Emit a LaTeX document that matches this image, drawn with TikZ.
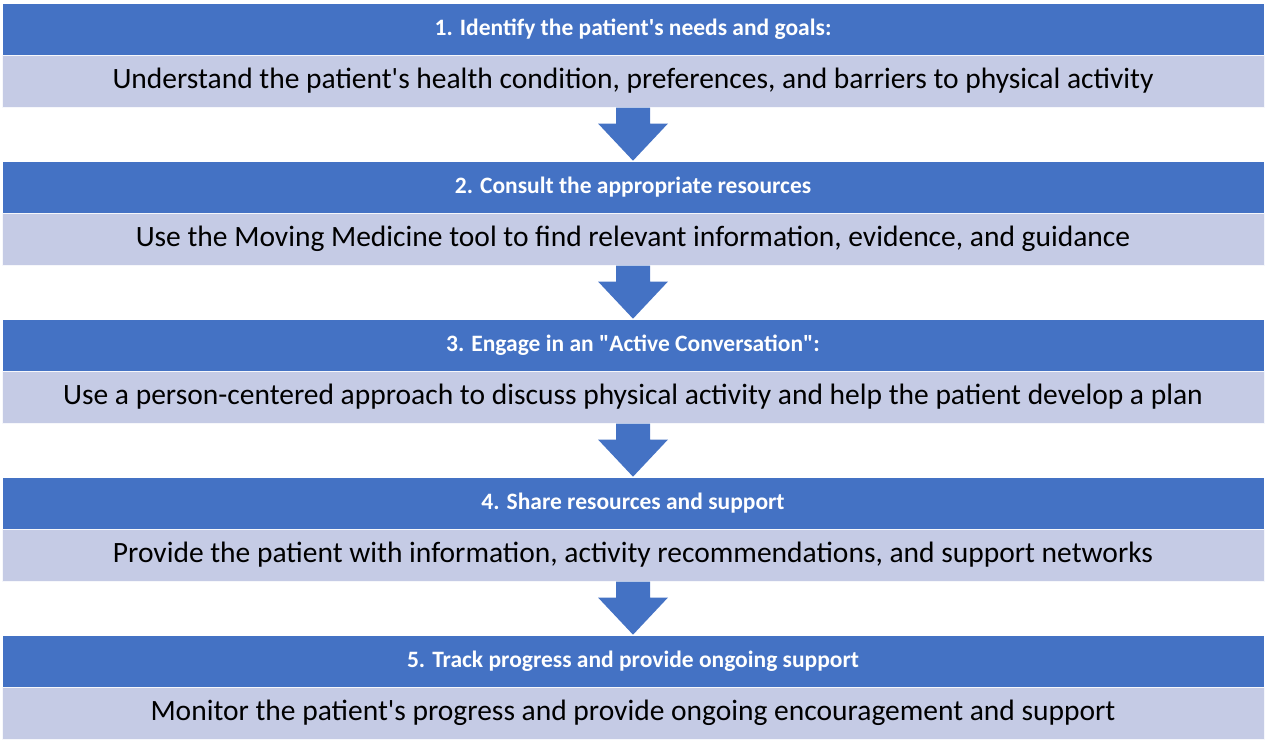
\documentclass[tikz,border=0pt]{standalone}
\usepackage{fontspec}
\setmainfont{Carlito}
\usetikzlibrary{calc}
\definecolor{headblue}{HTML}{4472C4}
\definecolor{bodyblue}{HTML}{C5CBE5}
\newcommand{\q}{\textquotesingle}
\newcommand{\qq}{\textquotedbl}
\tikzset{
  head/.style={rectangle, fill=headblue, draw=white, line width=0.6pt, minimum width=1262pt, minimum height=52pt, text=white, font=\fontsize{23.5}{26}\selectfont\bfseries, inner sep=0pt},
  body/.style={rectangle, fill=bodyblue, draw=white!85!bodyblue, line width=1pt, minimum width=1262pt, minimum height=52pt, font=\fontsize{29.5}{32}\selectfont, inner sep=0pt},
  down/.style={fill=headblue}
}
\begin{document}
\begin{tikzpicture}[x=1pt,y=-1pt]
\useasboundingbox (0,0) rectangle (1266,745);
\foreach \i/\h/\b [count=\n] in {%
  3/{1. Identify the patient\q s needs and goals:}/{Understand the patient\q s health condition, preferences, and barriers to physical activity},
  161/{2. Consult the appropriate resources}/{Use the Moving Medicine tool to find relevant information, evidence, and guidance},
  319/{3. Engage in an \qq Active Conversation\qq:}/{Use a person-centered approach to discuss physical activity and help the patient develop a plan},
  477/{4. Share resources and support}/{Provide the patient with information, activity recommendations, and support networks},
  635/{5. Track progress and provide ongoing support}/{Monitor the patient\q s progress and provide ongoing encouragement and support}}{
    \node[head] (head\n) at (633,\i+26) {\h};
    \node[body] (body\n) at (633,\i+78) {\b};
}
% block arrows between steps
\foreach \n [evaluate=\n as \m using int(\n+1)] in {1,2,3,4}{
    \fill[down] ($(body\n.south)+(-17,0)$) -- ($(body\n.south)+(17,0)$)
      -- ($(body\n.south)+(17,16)$) -- ($(body\n.south)+(35,16)$)
      -- (head\m.north) -- ($(body\n.south)+(-35,16)$)
      -- ($(body\n.south)+(-17,16)$) -- cycle;
}
\end{tikzpicture}
\end{document}
